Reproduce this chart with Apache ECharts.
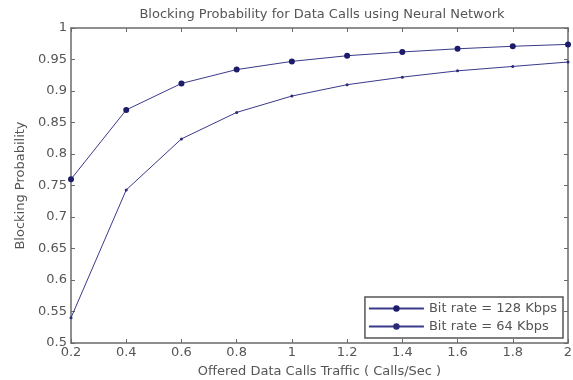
<!DOCTYPE html>
<html>
<head>
<meta charset="utf-8">
<script src="https://cdn.jsdelivr.net/npm/echarts@6/dist/echarts.min.js"></script>
<style>html,body{margin:0;padding:0;background:#fff;}#c{width:573px;height:380px;}</style>
</head>
<body>
<div id="c"></div>
<script>
var xValues = [0.2, 0.4, 0.6, 0.8, 1.0, 1.2, 1.4, 1.6, 1.8, 2.0];
var bitRate128 = [0.760, 0.870, 0.912, 0.934, 0.947, 0.956, 0.962, 0.967, 0.971, 0.974];
var bitRate64 = [0.540, 0.743, 0.824, 0.866, 0.892, 0.910, 0.922, 0.932, 0.939, 0.946];
var seriesNames = ['Bit rate = 128 Kbps', 'Bit rate = 64 Kbps'];

function pairs(xs, ys) { return xs.map(function (x, i) { return [x, ys[i]]; }); }

var font = 'DejaVu Sans';
var axisCol = '#6a6a6a';
var labelCol = '#555';
var lineCol = '#3a3a8a';

var chart = echarts.init(document.getElementById('c'), null, {renderer: 'canvas'});
var xBase = {
  type: 'value', min: 0.2, max: 2, interval: 0.2,
  axisLine: {lineStyle: {color: axisCol, width: 1.5}},
  axisTick: {inside: true, length: 4, lineStyle: {color: axisCol}},
  splitLine: {show: false}
};
var yBase = {
  type: 'value', min: 0.5, max: 1, interval: 0.05,
  axisLine: {lineStyle: {color: axisCol, width: 1.5}},
  axisTick: {inside: true, length: 4, lineStyle: {color: axisCol}},
  splitLine: {show: false}
};
chart.setOption({
  animation: false,
  backgroundColor: '#fff',
  title: {
    text: 'Blocking Probability for Data Calls using Neural Network',
    left: 317, top: 3, textAlign: 'center',
    textStyle: {fontFamily: font, fontSize: 13, fontWeight: 'normal', color: '#555'}
  },
  grid: {left: 71, right: 5, top: 28, bottom: 37, outerBoundsMode: 'none', containLabel: false},
  legend: {
    orient: 'vertical', right: 10, bottom: 42,
    data: seriesNames,
    itemWidth: 55, itemHeight: 8, itemGap: 5,
    padding: [5, 6, 5, 3],
    borderColor: '#555', borderWidth: 1.5, backgroundColor: '#fff',
    textStyle: {fontFamily: font, fontSize: 13, color: '#555'}
  },
  xAxis: [
    Object.assign({}, xBase, {
      position: 'bottom',
      name: 'Offered Data Calls Traffic ( Calls/Sec )',
      nameLocation: 'middle', nameGap: 22,
      nameTextStyle: {fontFamily: font, fontSize: 13, color: '#555'},
      axisLabel: {fontFamily: font, fontSize: 13, color: labelCol, margin: 3}
    }),
    Object.assign({}, xBase, {position: 'top', axisLabel: {show: false}})
  ],
  yAxis: [
    Object.assign({}, yBase, {
      position: 'left',
      name: 'Blocking Probability',
      nameLocation: 'middle', nameGap: 44, nameRotate: 90,
      nameTextStyle: {fontFamily: font, fontSize: 13, color: '#555'},
      axisLabel: {fontFamily: font, fontSize: 13, color: labelCol, margin: 4}
    }),
    Object.assign({}, yBase, {position: 'right', axisLabel: {show: false}})
  ],
  series: [
    {
      name: seriesNames[0], type: 'line', data: pairs(xValues, bitRate128),
      symbol: 'circle', symbolSize: 6, showSymbol: true,
      lineStyle: {color: lineCol, width: 1},
      itemStyle: {color: '#1c1c6a'}
    },
    {
      name: seriesNames[1], type: 'line', data: pairs(xValues, bitRate64),
      symbol: 'circle', symbolSize: 3, showSymbol: true,
      lineStyle: {color: lineCol, width: 1},
      itemStyle: {color: '#2a2a7a'}
    }
  ]
});
</script>
</body>
</html>
